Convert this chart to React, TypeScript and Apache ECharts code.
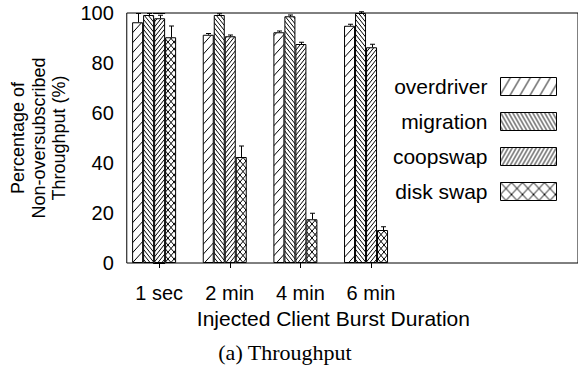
import React, { useEffect, useRef } from "react";
import * as echarts from "echarts";

const CATEGORIES = ["1 sec", "2 min", "4 min", "6 min"];
const SERIES_NAMES = ["overdriver", "migration", "coopswap", "disk swap"];
const OVERDRIVER = [96.3, 91.3, 92.3, 94.9];
const OVERDRIVER_ERR = [3.5, 0.5, 0.5, 0.6];
const MIGRATION = [99.2, 99.2, 98.7, 100];
const MIGRATION_ERR = [0.6, 0.5, 0.5, 0.5];
const COOPSWAP = [97.9, 90.7, 87.6, 86.3];
const COOPSWAP_ERR = [1.2, 0.5, 0.7, 1.2];
const DISKSWAP = [90.3, 42.4, 17.5, 13.2];
const DISKSWAP_ERR = [4.5, 4.4, 2.4, 1.3];
const Y_MIN = 0;
const Y_MAX = 100;
const Y_INTERVAL = 20;

const VALUES = [OVERDRIVER, MIGRATION, COOPSWAP, DISKSWAP];
const ERRORS = [OVERDRIVER_ERR, MIGRATION_ERR, COOPSWAP_ERR, DISKSWAP_ERR];

const FONT = "'Liberation Sans', Arial, Helvetica, sans-serif";
const BAR_W = 11;
const SPACER_W = 10;

function hatch(w: number, h: number, dirs: string[]) {
  let lines = "";
  for (let k = -1; k <= 1; k++) {
    for (const d of dirs) {
      if (d === "/") {
        lines += `<line x1='${k * w}' y1='${h}' x2='${k * w + w}' y2='0'/>`;
      } else {
        lines += `<line x1='${k * w}' y1='0' x2='${k * w + w}' y2='${h}'/>`;
      }
    }
  }
  const svg = `<svg xmlns='http://www.w3.org/2000/svg' width='${w}' height='${h}'><rect width='${w}' height='${h}' fill='white'/><g stroke='black' stroke-width='1'>${lines}</g></svg>`;
  return {
    image: "data:image/svg+xml;charset=utf-8," + encodeURIComponent(svg),
    repeat: "repeat",
    imageWidth: w,
    imageHeight: h,
  };
}

const BAR_PATTERNS = [
  hatch(9, 10, ["/"]),
  hatch(4, 5, ["\\"]),
  hatch(4, 5, ["/"]),
  hatch(6, 7, ["/", "\\"]),
];
const LEGEND_PATTERNS = [
  hatch(10, 17, ["/"]),
  hatch(4, 7, ["\\"]),
  hatch(4, 7, ["/"]),
  hatch(11, 12, ["/", "\\"]),
];

export default function App() {
  const ref = useRef<HTMLDivElement>(null);
  useEffect(() => {
    if (!ref.current) return;
    const chart = echarts.init(ref.current, null, { renderer: "svg" });
    const widths = [BAR_W, BAR_W, BAR_W, BAR_W, SPACER_W];
    const total = widths.reduce((a, b) => a + b, 0);
    const centerOffset = (s: number) => {
      let off = -total / 2;
      for (let i = 0; i < s; i++) off += widths[i];
      return off + widths[s] / 2;
    };

    const barSeries: any[] = SERIES_NAMES.map((name, s) => ({
      name,
      type: "bar",
      barWidth: BAR_W,
      barGap: "0%",
      data: CATEGORIES.map((_, i) => [i, VALUES[s][i]]),
      itemStyle: { color: BAR_PATTERNS[s], borderColor: "#000", borderWidth: 1 },
      z: 2,
    }));
    barSeries.push({
      name: "_spacer",
      type: "bar",
      barWidth: SPACER_W,
      barGap: "0%",
      data: CATEGORIES.map((_, i) => [i, "-"]),
      itemStyle: { color: "transparent" },
    });

    const errData: any[] = [];
    SERIES_NAMES.forEach((_, s) => {
      CATEGORIES.forEach((_, i) => {
        errData.push([i, VALUES[s][i], ERRORS[s][i], s]);
      });
    });

    const errSeries = {
      type: "custom",
      z: 5,
      silent: true,
      data: errData,
      encode: { x: 0, y: 1 },
      renderItem: (params: any, api: any) => {
        const x = api.value(0);
        const v = api.value(1);
        const e = api.value(2);
        const s = api.value(3);
        const base = api.coord([x, v]);
        const hi = api.coord([x, v + e]);
        const cx = Math.round(base[0] + centerOffset(s)) + 0.5;
        const cap = 2.5;
        const style = { stroke: "#000", lineWidth: 1 };
        return {
          type: "group",
          children: [
            { type: "line", shape: { x1: cx, y1: base[1], x2: cx, y2: hi[1] }, style },
            { type: "line", shape: { x1: cx - cap, y1: hi[1], x2: cx + cap, y2: hi[1] }, style },
          ],
        };
      },
    };

    const xMin = -0.458;
    const xMax = 5.93;
    const tickVals = CATEGORIES.map((_, i) => i);

    chart.setOption({
      animation: false,
      backgroundColor: "#fff",
      grid: {
        left: 123,
        top: 13,
        width: 460,
        height: 250,
        show: true,
        borderColor: "#000",
        borderWidth: 1,
        backgroundColor: "transparent",
      },
      legend: {
        data: SERIES_NAMES.map((name, s) => ({
          name,
          itemStyle: { color: LEGEND_PATTERNS[s], borderColor: "#000", borderWidth: 1 },
        })),
        orient: "vertical",
        align: "right",
        right: 21,
        top: 76,
        padding: 0,
        itemWidth: 56,
        itemHeight: 18,
        itemGap: 14,
        icon: "rect",
        selectedMode: false,
        textStyle: { fontSize: 21, fontFamily: FONT, color: "#000", padding: [0, 8, 0, 0] },
      },
      xAxis: [
        {
          type: "value",
          position: "bottom",
          min: xMin,
          max: xMax,
          axisLine: { show: false },
          axisTick: { show: false },
          splitLine: { show: false },
          axisLabel: {
            customValues: tickVals,
            formatter: (v: number) => CATEGORIES[Math.round(v)] ?? "",
            fontSize: 20,
            fontFamily: FONT,
            color: "#000",
            margin: 20,
          },
          name: "Injected Client Burst Duration",
          nameLocation: "middle",
          nameGap: 45,
          nameTextStyle: { fontSize: 21, fontFamily: FONT, color: "#000", padding: [0, 38, 0, 0] },
        },
        {
          type: "value",
          position: "top",
          min: xMin,
          max: xMax,
          axisLine: { show: false },
          axisTick: { show: true, inside: true, length: 5, customValues: tickVals, lineStyle: { color: "#000" } },
          axisLabel: { show: false, customValues: tickVals },
          splitLine: { show: false },
        },
      ],
      yAxis: [
        {
          type: "value",
          position: "left",
          min: Y_MIN,
          max: Y_MAX,
          interval: Y_INTERVAL,
          axisLine: { show: false },
          axisTick: { show: true, inside: true, length: 6, lineStyle: { color: "#000" } },
          splitLine: { show: false },
          axisLabel: { fontSize: 20, fontFamily: FONT, color: "#000", margin: 13 },
          name: "Percentage of\nNon-oversubscribed\nThroughput (%)",
          nameLocation: "middle",
          nameRotate: 90,
          nameGap: 52,
          nameTextStyle: { fontSize: 18, fontFamily: FONT, color: "#000", lineHeight: 20.5 },
        },
        {
          type: "value",
          position: "right",
          min: Y_MIN,
          max: Y_MAX,
          interval: Y_INTERVAL,
          axisLine: { show: false },
          axisTick: { show: true, inside: true, length: 6, lineStyle: { color: "#000" } },
          splitLine: { show: false },
          axisLabel: { show: false },
        },
      ],
      graphic: [
        {
          type: "text",
          x: 285,
          y: 352,
          style: {
            text: "(a) Throughput",
            fontSize: 22,
            fontFamily: "'Liberation Serif', 'Times New Roman', serif",
            fill: "#000",
            align: "center",
            verticalAlign: "middle",
          },
        },
      ],
      series: [...barSeries, errSeries],
    });
    return () => chart.dispose();
  }, []);
  return (
    <div
      ref={ref}
      style={{ position: "fixed", left: 0, top: 0, width: 578, height: 373, background: "#fff" }}
    />
  );
}
